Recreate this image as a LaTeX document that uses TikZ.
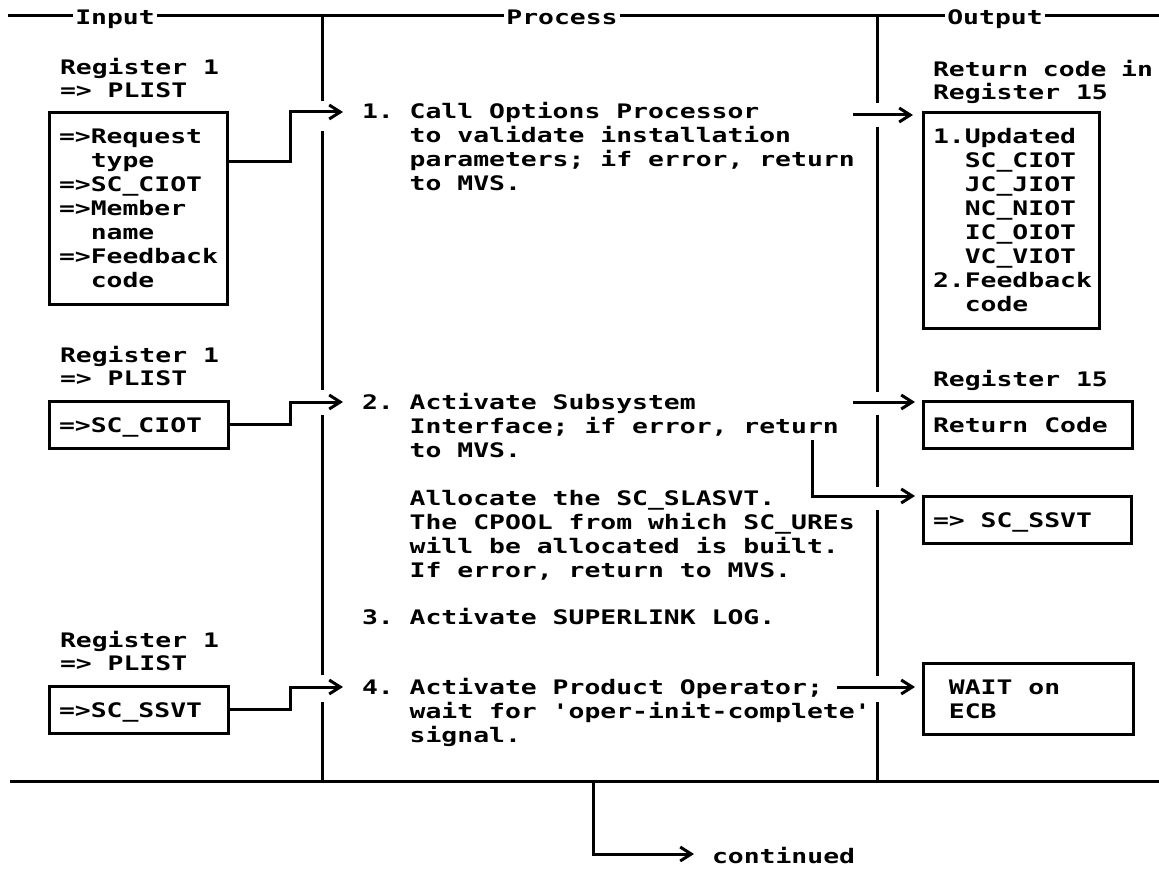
\documentclass[tikz,border=0pt]{standalone}
\usepackage{fontspec}
\newfontfamily\dmono{DejaVu Sans Mono}[FakeStretch=1.32,Ligatures=TeXOff]
\usetikzlibrary{arrows.meta}
\newcommand\topst{\rule{0pt}{31pt}}
\newcommand\botst{\rule[-16pt]{0pt}{16pt}}
\newcommand\hst{\rule{0pt}{20pt}}
\newcommand\indA{\hphantom{x}}
\newcommand\indB{\hphantom{xx}}
\newcommand\indC{\hphantom{xxx}}
\begin{document}
\begin{tikzpicture}[x=1pt,y=-1pt,
  every node/.style={font={\fontsize{20}{24}\dmono\bfseries\frenchspacing}, inner sep=0pt, outer sep=0pt},
  plain/.style={line width=3pt},
  conn/.style={line width=3pt, -{Straight Barb[length=11pt,width=14pt]}},
  regbox/.style={draw, line width=3pt, anchor=north west, inner xsep=10pt, inner ysep=0pt, align=flush left},
  txt/.style={anchor=north west, align=flush left, text width=520pt},
  hdr/.style={anchor=north west, align=flush left, text width=220pt, font={\fontsize{20}{23}\dmono\bfseries\frenchspacing}},
  colhead/.style={fill=white, inner xsep=2pt, inner ysep=1pt, anchor=base}]
\useasboundingbox (0,0) rectangle (1159,869);
\fill[white] (0,0) rectangle (1159,869);

% frame
\draw[plain] (8,16) -- (1159,16);
\draw[plain] (10,781) -- (1159,781);
\draw[plain] (322,16) -- (322,101) (322,131) -- (322,390) (322,415) -- (322,675) (322,702) -- (322,781);
\draw[plain] (877,16) -- (877,103) (877,127) -- (877,392) (877,415) -- (877,487) (877,510) -- (877,676) (877,702) -- (877,781);

% column headings
\node[colhead] (hin) at (115,25) {Input};
\node[colhead] (hpr) at (562,25) {Process};
\node[colhead] (hout) at (995,25) {Output};

% input column
\node[hdr] (reg1) at (60,55) {\hst Register 1\\=> PLIST};
\node[regbox, text width=158pt] (in1) at (49,113) {\topst=>Request\\\indB type\\=>SC\_CIOT\\=>Member\\\indB name\\=>Feedback\\\indB code\botst};
\node[hdr] (reg2) at (60,342) {\hst Register 1\\=> PLIST};
\node[regbox, text width=159pt] (in2) at (49,401) {\topst=>SC\_CIOT\botst};
\node[hdr] (reg3) at (60,627) {\hst Register 1\\=> PLIST};
\node[regbox, text width=159pt] (in3) at (49,686) {\topst=>SC\_SSVT\botst};

% process column
\node[txt] (s1) at (362,99) {\hst 1. Call Options Processor\\\indC to validate installation\\\indC parameters; if error, return\\\indC to MVS.};
\node[txt] (s2) at (362,389) {\hst 2. Activate Subsystem\\\indC Interface; if error, return\\\indC to MVS.};
\node[txt] (s2b) at (362,485) {\hst\indC Allocate the SC\_SLASVT.\\\indC The CPOOL from which SC\_UREs\\\indC will be allocated is built.\\\indC If error, return to MVS.};
\node[txt] (s3) at (362,604) {\hst 3. Activate SUPERLINK LOG.};
\node[txt] (s4) at (362,674) {\hst 4. Activate Product Operator;\\\indC wait for 'oper-init-complete'\\\indC signal.};

% output column
\node[hdr] (ret) at (933,57) {\hst Return code in\\Register 15};
\node[regbox, text width=156pt] (out1) at (923,113) {\topst 1.Updated\\\indB SC\_CIOT\\\indB JC\_JIOT\\\indB NC\_NIOT\\\indB IC\_OIOT\\\indB VC\_VIOT\\2.Feedback\\\indB code\botst};
\node[hdr] (reg15) at (933,366) {\hst Register 15};
\node[regbox, text width=189pt] (out2) at (923,401) {\topst Return Code\botst};
\node[regbox, text width=188pt] (out3) at (923,496) {\topst=> SC\_SSVT\botst};
\node[regbox, text width=190pt] (out4) at (923,663) {\topst\indA WAIT on\\\indA ECB\botst};

% continued
\node[anchor=base west] (cont) at (712,863) {continued};

% connector end points
\coordinate (a1) at (343,112);
\coordinate (a2) at (343,402);
\coordinate (a4) at (343,687);
\coordinate (r1) at (853,115);
\coordinate (r2) at (853,402);
\coordinate (r3) at (812,440);
\coordinate (r4) at (837,687);
\coordinate (c0) at (593,781);

% connectors
\draw[conn] ([yshift=-49pt]in1.north east) -- ++(63,0) |- (a1);
\draw[conn] (in2.east) -- ++(62,0) |- (a2);
\draw[conn] (in3.east) -- ++(62,0) |- (a4);
\draw[conn] (r1) -- ([xshift=-10pt,yshift=-2pt]out1.north west);
\draw[conn] (r2) -- ([xshift=-8pt,yshift=-1pt]out2.north west);
\draw[conn] (r3) |- ([xshift=-8pt]out3.north west);
\draw[conn] (r4) -- ([xshift=-8pt,yshift=-24pt]out4.north west);
\draw[conn] (c0) |- ([xshift=-18pt,yshift=9pt]cont.base west);
\end{tikzpicture}
\end{document}
